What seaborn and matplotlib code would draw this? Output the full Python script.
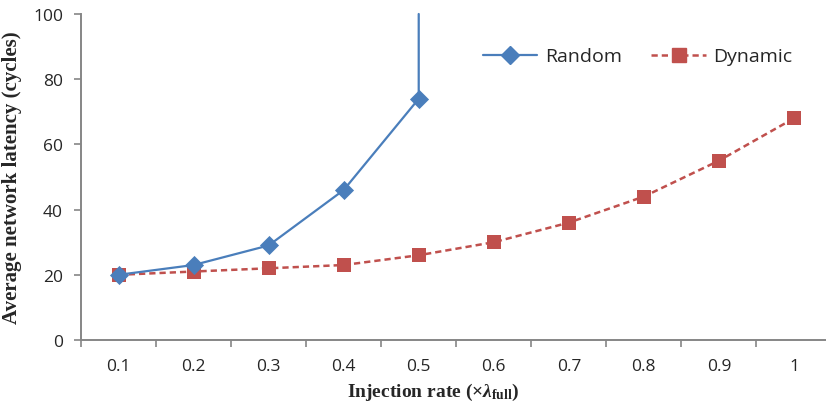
import matplotlib
matplotlib.use("Agg")
import matplotlib.pyplot as plt
import seaborn as sns
import pandas as pd
import numpy as np

categories = ["0.1", "0.2", "0.3", "0.4", "0.5", "0.6", "0.7", "0.8", "0.9", "1"]
random_vals = [20, 23, 29, 46, 74]
random_saturation = 100  # latency blows up at 0.5
dynamic_vals = [20, 21, 22, 23, 26, 30, 36, 44, 55, 68]
y_ticks = [0, 20, 40, 60, 80, 100]

sns.set_theme(style="white")
plt.rcParams["font.family"] = ["Open Sans", "DejaVu Sans"]
plt.rcParams["mathtext.fontset"] = "custom"
plt.rcParams["mathtext.rm"] = "Liberation Serif:bold"
plt.rcParams["mathtext.it"] = "Liberation Serif:bold:italic"
plt.rcParams["mathtext.bf"] = "Liberation Serif:bold"

fig = plt.figure(figsize=(8.26, 4.14), dpi=100)
ax = fig.add_axes([81/826, 1-341/414, (831.5-81)/826, (341-15)/414])

blue = "#4A7EBB"
red = "#C0504D"

xpos = np.arange(len(categories))
df_r = pd.DataFrame({"x": xpos[:len(random_vals)], "y": random_vals})
df_d = pd.DataFrame({"x": xpos, "y": dynamic_vals})

# Random: line including vertical saturation segment
rx = list(xpos[:len(random_vals)]) + [xpos[len(random_vals)-1]]
ry = random_vals + [random_saturation]
ax.plot(rx, ry, color=blue, lw=1.6, zorder=3, clip_on=False)
sns.scatterplot(data=df_r, x="x", y="y", marker="D", s=95, color=blue,
                edgecolor=blue, linewidth=0, ax=ax, zorder=4, legend=False)

sns.lineplot(data=df_d, x="x", y="y", color=red, lw=1.8, ax=ax, zorder=2)
ax.lines[-1].set_dashes([2.5, 1.6])
sns.scatterplot(data=df_d, x="x", y="y", marker="s", s=115, color=red,
                edgecolor=red, linewidth=0, ax=ax, zorder=3, legend=False)

ax.set_xlim(-0.5, 9.5)
ax.set_ylim(0, 100)
ax.set_yticks(y_ticks)
ax.set_yticklabels([str(v) for v in y_ticks], fontsize=12.5)
ax.set_xticks(xpos)
ax.set_xticklabels(categories, fontsize=12.5)
ax.set_xticks(np.arange(-0.5, 9.6, 1.0), minor=True)
ax.tick_params(axis="x", which="major", length=0, pad=13)
ax.tick_params(axis="x", which="minor", length=5, width=1.2, color="#868686", direction="out", bottom=True)
ax.tick_params(axis="y", which="major", length=5, width=1.2, color="#868686", direction="out", left=True, pad=8)

for s in ["top", "right"]:
    ax.spines[s].set_visible(False)
for s in ["left", "bottom"]:
    ax.spines[s].set_color("#868686")
    ax.spines[s].set_linewidth(1.4)

ax.set_xlabel(r"Injection rate (×$\lambda_{\mathrm{full}}$)", fontsize=14,
              family="Liberation Serif", fontweight="bold")
ax.xaxis.set_label_coords((433-81)/750.5, -(392-341)/326, transform=ax.transAxes)
ax.xaxis.label.set_va("center")
ax.set_ylabel("Average network latency (cycles)", fontsize=15,
              family="Liberation Serif", fontweight="bold", labelpad=8)

from matplotlib.lines import Line2D
handles = [Line2D([], [], color=blue, lw=1.6, marker="D", markersize=9),
           Line2D([], [], color=red, lw=1.8, ls=(0, (2.5, 1.6)), marker="s", markersize=10.5)]
ax.legend(handles, ["Random", "Dynamic"], ncol=2, frameon=False, fontsize=14,
          loc="center", bbox_to_anchor=(0.742, 0.87), handlelength=2.8, columnspacing=1.5,
          handletextpad=0.4)

fig.savefig("out.png", dpi=100)
